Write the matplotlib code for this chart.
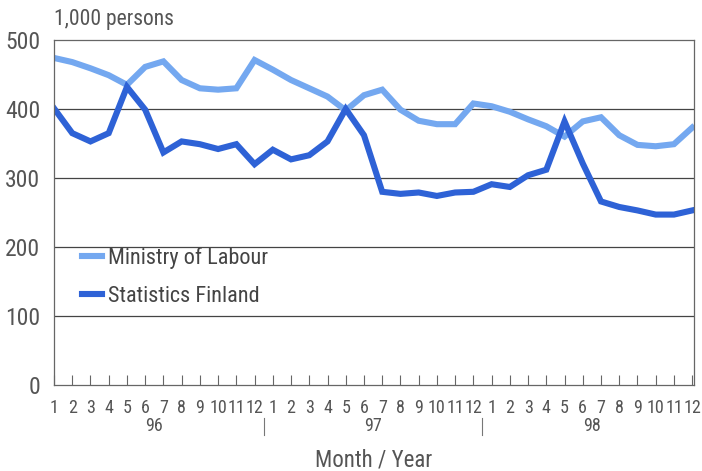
import numpy as np
import matplotlib
matplotlib.use("Agg")
import matplotlib.pyplot as plt
from matplotlib import font_manager

# ============================================================
# Data (1,000 persons), months 1/96 .. 12/98
# ============================================================
years = ["96", "97", "98"]
month_labels = [str(m) for m in range(1, 13)] * 3

ministry = [474, 468, 459, 449, 435, 461, 469, 442, 430, 428, 430, 471,
            457, 442, 430, 418, 398, 420, 428, 399, 383, 378, 378, 408,
            404, 396, 385, 375, 360, 382, 388, 362, 348, 346, 349, 373]

statfin = [401, 365, 353, 365, 432, 399, 337, 353, 349, 342, 349, 320,
           341, 327, 333, 353, 400, 362, 280, 277, 279, 274, 279, 280,
           291, 287, 304, 312, 382, 321, 266, 258, 253, 247, 247, 253]

LIGHT = "#74a8f0"
DARK = "#2e62d6"
GREY = "#555555"

names = {f.name for f in font_manager.fontManager.ttflist}
fams = [f for f in ["Liberation Sans Narrow", "Roboto Condensed",
                    "DejaVu Sans Condensed", "Roboto"] if f in names]
plt.rcParams["font.family"] = fams + ["DejaVu Sans"]
plt.rcParams["font.stretch"] = "condensed"

fig = plt.figure(figsize=(7.02, 4.71), dpi=100)
ax = fig.add_axes([54 / 702, 1 - 385 / 471, 640 / 702, 345 / 471])

x = np.arange(len(ministry))
ax.plot(x, ministry, color=LIGHT, lw=4.4, label="Ministry of Labour",
        solid_joinstyle="miter")
ax.plot(x, statfin, color=DARK, lw=4.4, label="Statistics Finland",
        solid_joinstyle="miter")

ax.set_xlim(0, len(x) - 0.9)
ax.set_ylim(0, 500)

# horizontal grid
for v in [100, 200, 300, 400]:
    ax.axhline(v, color="#444444", lw=0.9, zorder=0)

for s in ax.spines.values():
    s.set_color("#666666")
    s.set_linewidth(0.9)

ax.set_yticks([0, 100, 200, 300, 400, 500])
ax.tick_params(axis="y", length=0, labelsize=17, colors=GREY, pad=10)

ax.set_xticks(x)
ax.set_xticklabels(month_labels)
ax.tick_params(axis="x", direction="in", length=7, width=0.8, color="#666666",
               labelsize=13, labelcolor=GREY, pad=10)

# year labels and separators
for i, yr in enumerate(years):
    ax.text(12 * i + 5.5, -0.12, yr, transform=ax.get_xaxis_transform(),
            ha="center", va="center", fontsize=13, color=GREY)
for i in [1, 2]:
    ax.plot([12 * i - 0.5] * 2, [-0.095, -0.145], transform=ax.get_xaxis_transform(),
            color="#777777", lw=0.8, clip_on=False)

ax.text(0.5, -0.218, "Month / Year", transform=ax.transAxes, ha="center",
        va="center", fontsize=16.5, color=GREY)
ax.text(0.0, 1.06, "1,000 persons", transform=ax.transAxes, ha="left",
        va="center", fontsize=15.5, color=GREY)

leg = ax.legend(loc="upper left", bbox_to_anchor=(0.03, 0.425), frameon=False,
                fontsize=16, handlelength=0.9, handletextpad=0.25,
                labelspacing=0.75, borderaxespad=0)
for t in leg.get_texts():
    t.set_color("#444444")

fig.savefig("out.png", dpi=100)
